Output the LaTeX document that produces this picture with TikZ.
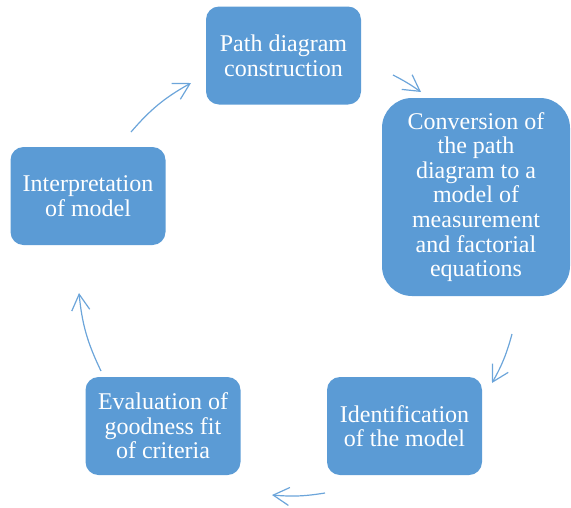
\documentclass[tikz,border=0pt]{standalone}
\usepackage{fontspec}
\setmainfont{Liberation Serif}
\usetikzlibrary{arrows.meta}
\definecolor{boxblue}{HTML}{5B9BD5}
\definecolor{arrowblue}{HTML}{6CA5DA}
\tikzset{
  stage/.style={draw=none, fill=boxblue, text=white, rounded corners=13pt,
    align=center, inner sep=0pt, minimum width=155pt, minimum height=98pt,
    font=\fontsize{24}{24.6}\selectfont},
  cycarrow/.style={draw=arrowblue, line width=1.2pt,
    -{Straight Barb[length=16pt,width=18pt,line width=1.2pt]}}
}
\begin{document}
\begin{tikzpicture}[x=1pt,y=-1pt]
	  \useasboundingbox (0,0) rectangle (571,507);

	  \node [stage] (path) at (283.5,55.5) {Path diagram\\construction};
	  \node [stage, rounded corners=30pt, minimum width=188pt, minimum height=198pt] (conv) at (476,197)
	    {Conversion of\\the path\\diagram to a\\model of\\measurement\\and factorial\\equations};
	  \node [stage] (ident) at (404.5,426) {Identification\\of the model};
	  \node [stage] (eval) at (163,426) {Evaluation of\\goodness fit\\of criteria};
	  \node [stage] (interp) at (88,196) {Interpretation\\of model};

	  \coordinate (a1s) at (131,132);
	  \coordinate (a1e) at (191,83);
	  \coordinate (a2s) at (393,75);
	  \coordinate (a2e) at (421,92);
	  \coordinate (a3s) at (512,334);
	  \coordinate (a3e) at (492,383);
	  \coordinate (a4s) at (325,493);
	  \coordinate (a4e) at (272,495);
	  \coordinate (a5s) at (101,371);
	  \coordinate (a5e) at (79,293);

	  \draw [cycarrow] (a1s) to [bend left=10] (a1e);
	  \draw [cycarrow] (a2s) to [bend left=4] (a2e);
	  \draw [cycarrow] (a3s) to [bend left=7] (a3e);
	  \draw [cycarrow] (a4s) to [bend left=7] (a4e);
	  \draw [cycarrow] (a5s) to [bend left=10] (a5e);
	\end{tikzpicture}
\end{document}
